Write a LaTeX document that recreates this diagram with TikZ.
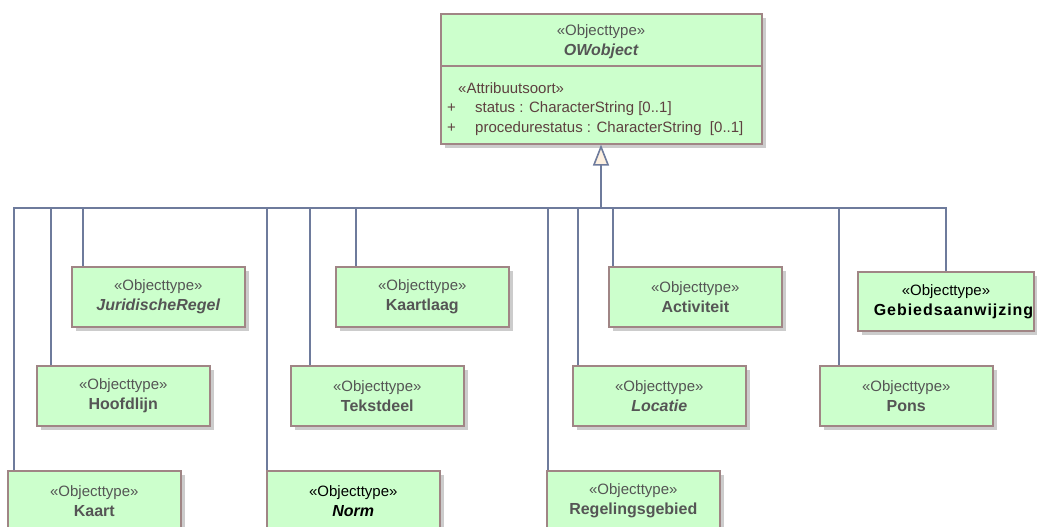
\documentclass[tikz,border=0pt]{standalone}
\usepackage{fontspec}
\setmainfont{Liberation Sans}
\usetikzlibrary{arrows.meta,shadows}
\definecolor{clsfill}{HTML}{CCFFCC}
\definecolor{clsline}{HTML}{A08585}
\definecolor{clsshadow}{HTML}{CCCCCC}
\definecolor{genline}{HTML}{6E7B9C}
\definecolor{trifill}{HTML}{FDF0E0}
\definecolor{txtgray}{HTML}{555555}
\definecolor{attrtxt}{HTML}{5E4040}
\newcommand{\stereo}[1]{{\fontsize{15}{20}\selectfont «#1»}}
\begin{document}
\begin{tikzpicture}[x=1pt,y=-1pt,
	cls/.style={rectangle, draw=clsline, fill=clsfill, line width=1.6pt, inner sep=0pt, anchor=north west,
		minimum width=173pt, minimum height=60pt, align=center, text=txtgray,
		font=\fontsize{16}{20}\selectfont,
		drop shadow={shadow xshift=4pt, shadow yshift=-4pt, fill=clsshadow, opacity=1}},
	gen/.style={draw=genline, line width=1.6pt},
	attr/.style={anchor=base west, inner sep=0pt, text=attrtxt, font=\fontsize{15}{18}\selectfont}]
	\clip (0,0) rectangle (1037,527);
	% supertype
	\node (OW) at (440,13)	[cls, minimum width=321pt, minimum height=130pt]	{};
	\draw[draw=clsline, line width=1.6pt] (OW.west |- 0,66) -- (OW.east |- 0,66);
	\node (OWst) at (601,36)	[anchor=base, inner sep=0pt, text=txtgray]	{\stereo{Objecttype}};
	\node (OWnm) at (601,56)	[anchor=base, inner sep=0pt, text=txtgray, font=\fontsize{16}{20}\selectfont\bfseries\itshape]	{OWobject};
	\node (OWat) at (458,93)	[attr]	{«Attribuutsoort»};
	\node (OWp1) at (447,113)	[attr]	{+};
	\node (OWa1) at (475,113)	[attr]	{status : CharacterString [0..1]};
	\node (OWp2) at (447,132)	[attr]	{+};
	\node (OWa2) at (475,132)	[attr]	{procedurestatus : CharacterString \ [0..1]};
	% subtypes
	\node (JuridischeRegel) at (71,266)	[cls]	{\stereo{Objecttype}\\\textbf{\textit{JuridischeRegel}}};
	\node (Kaartlaag) at (335,266)	[cls]	{\stereo{Objecttype}\\\textbf{Kaartlaag}};
	\node (Activiteit) at (608,266)	[cls]	{\stereo{Objecttype}\\\textbf{Activiteit}};
	\node (Gebiedsaanwijzing) at (857,271)	[cls, text=black, minimum height=59pt]	{\stereo{Objecttype}\\\hspace*{16pt}\textbf{\addfontfeature{LetterSpace=6}Gebiedsaanwijzing}};
	\node (Hoofdlijn) at (36,365)	[cls]	{\stereo{Objecttype}\\\textbf{Hoofdlijn}};
	\node (Tekstdeel) at (290,365)	[cls]	{\stereo{Objecttype}\\\textbf{Tekstdeel}};
	\node (Locatie) at (572,365)	[cls]	{\stereo{Objecttype}\\\textbf{\textit{Locatie}}};
	\node (Pons) at (819,365)	[cls]	{\stereo{Objecttype}\\\textbf{Pons}};
	\node (Kaart) at (7,470)	[cls]	{\stereo{Objecttype}\\\textbf{Kaart}};
	\node (Norm) at (266,470)	[cls, text=black]	{\stereo{Objecttype}\\\textbf{\textit{Norm}}};
	\node (Regelingsgebied) at (546,470)	[cls]	{\stereo{Objecttype}\\\textbf{Regelingsgebied}};
	% generalisations
	\coordinate (bus) at (601,208);
	\draw[gen, -{Triangle[length=21pt, width=16pt, fill=trifill]}] (bus) -- (OW.south -| bus);
	\draw[gen] ([xshift=7pt]Kaart.north west) |- (bus);
	\draw[gen] ([xshift=15pt]Hoofdlijn.north west) |- (bus);
	\draw[gen] ([xshift=12pt]JuridischeRegel.north west) |- (bus);
	\draw[gen] ([xshift=1pt]Norm.north west) |- (bus);
	\draw[gen] ([xshift=20pt]Tekstdeel.north west) |- (bus);
	\draw[gen] ([xshift=21pt]Kaartlaag.north west) |- (bus);
	\draw[gen] ([xshift=2pt]Regelingsgebied.north west) |- (bus);
	\draw[gen] ([xshift=6pt]Locatie.north west) |- (bus);
	\draw[gen] ([xshift=5pt]Activiteit.north west) |- (bus);
	\draw[gen] ([xshift=20pt]Pons.north west) |- (bus);
	\draw[gen] (Gebiedsaanwijzing.north) |- (bus);
\end{tikzpicture}
\end{document}
